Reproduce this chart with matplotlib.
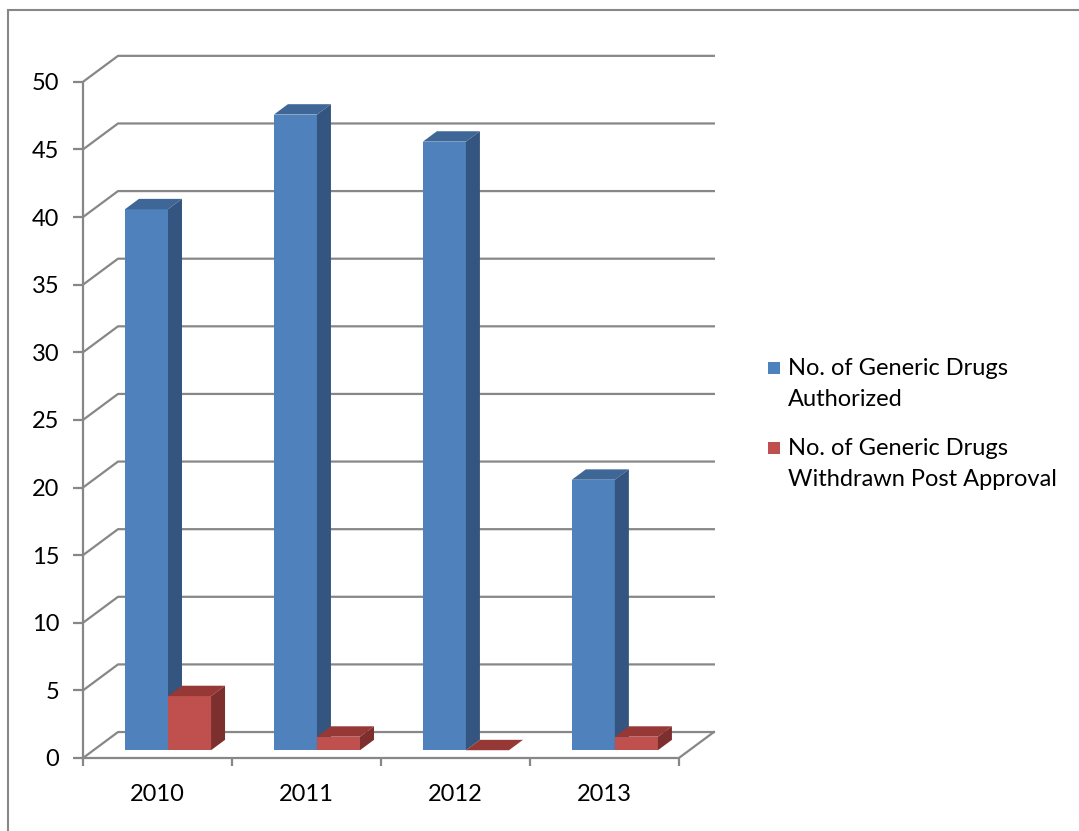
import numpy as np
import matplotlib.pyplot as plt
from matplotlib.patches import Polygon, Rectangle

# data
years = ['2010', '2011', '2012', '2013']
authorized = [40, 47, 45, 20]
withdrawn = [4, 1, 0, 1]
names = ['No. of Generic Drugs\nAuthorized',
         'No. of Generic Drugs\nWithdrawn Post Approval']
yticks = list(range(0, 51, 5))

front_c = ['#4F81BD', '#C0504D']
side_c = ['#34557F', '#7D2F2E']
top_c = ['#3E6797', '#953836']
grid_c = '#878787'
fs = 17

plt.rcParams['font.family'] = ['Lato', 'DejaVu Sans']

# oblique "3d" offsets (x in category units, y in value units)
DX, DY = 0.235, 1.92
d0, d1 = 0.3, 0.7     # bar depth (front / back) as fraction of floor depth
W = 0.289             # width of one bar

fig = plt.figure(figsize=(10.79, 8.31), dpi=100)
ax = fig.add_axes([83/1079, 73/831, 648/1079, 710/831])
ax.set_xlim(0, 4.35)
ax.set_ylim(0, 52.5)

def proj(x, v, d):
    return (x + d*DX, v + d*DY)

# walls / gridlines
n = len(years)
for v in yticks:
    ax.plot([0, DX, n + DX], [v, v + DY, v + DY], color=grid_c, lw=1.6, zorder=1)
ax.plot([n, n + DX], [0, DY], color=grid_c, lw=1.6, zorder=1)

for s, vals in enumerate([authorized, withdrawn]):
    x0 = np.arange(n) + 0.5 - W + s*W
    ax.bar(x0 + d0*DX, vals, W, bottom=d0*DY, align='edge',
           color=front_c[s], lw=0, zorder=3 + s)
    for x, v in zip(x0, vals):
        top = [proj(x, v, d0), proj(x + W, v, d0), proj(x + W, v, d1), proj(x, v, d1)]
        side = [proj(x + W, 0, d0), proj(x + W, v, d0), proj(x + W, v, d1), proj(x + W, 0, d1)]
        ax.add_patch(Polygon(top, closed=True, fc=top_c[s], lw=0, zorder=3 + s))
        ax.add_patch(Polygon(side, closed=True, fc=side_c[s], lw=0, zorder=3 + s))

for k in ['top', 'right']:
    ax.spines[k].set_visible(False)
ax.spines['left'].set_bounds(0, 50)
ax.spines['bottom'].set_bounds(0, n)
for k in ['left', 'bottom']:
    ax.spines[k].set_color(grid_c)
    ax.spines[k].set_linewidth(1.6)

ax.set_yticks(yticks)
ax.tick_params(axis='y', length=7, width=1.6, color=grid_c, pad=10, labelsize=fs)
ax.set_xticks(range(n + 1))
ax.set_xticklabels([])
ax.set_xticks(np.arange(n) + 0.5, minor=True)
ax.set_xticklabels(years, minor=True)
ax.tick_params(axis='x', which='major', length=6, width=1.6, color=grid_c)
ax.tick_params(axis='x', which='minor', length=0, pad=19, labelsize=fs)

# legend (square aligned with the first line of each label)
W_, H_ = 1079, 831
for s, (name, yc) in enumerate(zip(names, [368, 448])):
    fig.patches.append(Rectangle((768/W_, 1 - (yc + 6)/H_), 12/W_, 12/H_,
                                 transform=fig.transFigure, fc=front_c[s], lw=0))
    fig.text(788/W_, 1 - (yc + 16)/H_, name, fontsize=fs, va='center',
             ha='left', linespacing=1.6)

fig.patches.append(Rectangle((8/W_, -0.1), 1.2, 1 - 10/H_ + 0.1,
                             transform=fig.transFigure, fill=False,
                             ec=grid_c, lw=1.5))

plt.savefig('out.png', dpi=100)
